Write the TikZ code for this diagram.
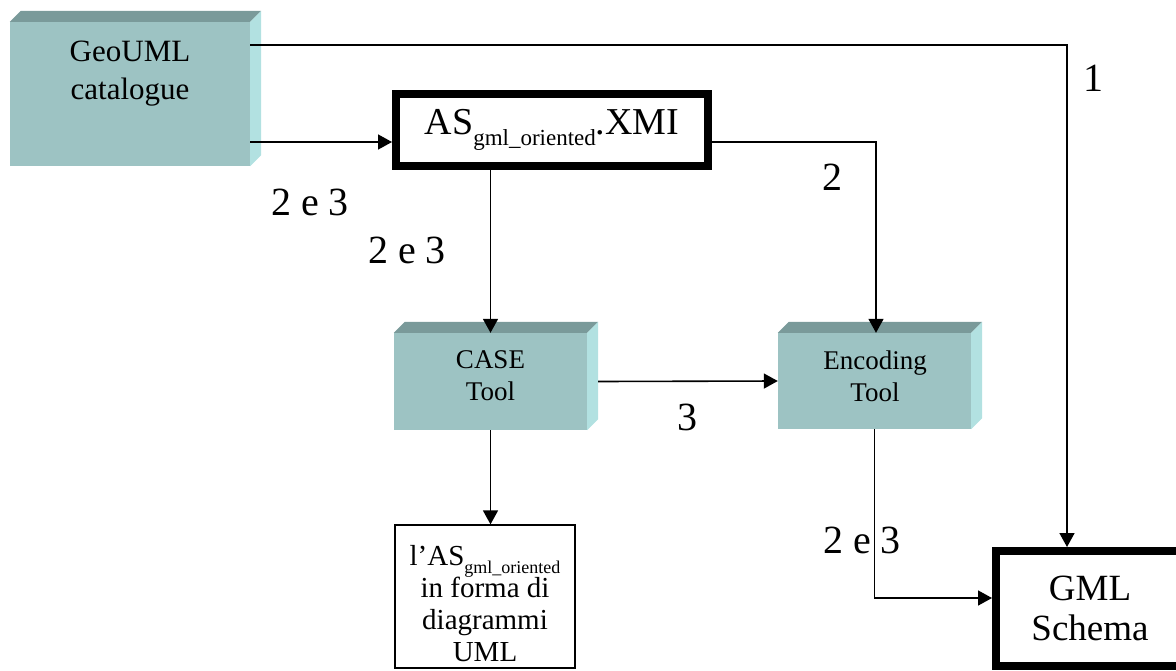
\documentclass[tikz,border=0pt]{standalone}
\usepackage{fontspec}
\setmainfont{Liberation Serif}
\usepackage{xcolor}
\usetikzlibrary{arrows.meta,positioning,calc}

\definecolor{slabfront}{RGB}{157,195,195}
\definecolor{slabtop}{RGB}{122,154,154}
\definecolor{slabside}{RGB}{178,225,225}

\newcommand{\geofont}{\fontsize{31}{38}\selectfont}
\newcommand{\asfont}{\fontsize{38}{44}\selectfont}
\newcommand{\subfont}{\fontsize{23}{26}\selectfont}
\newcommand{\slabfont}{\fontsize{27}{32}\selectfont}
\newcommand{\umlfont}{\fontsize{29}{32}\selectfont}
\newcommand{\umlsubfont}{\fontsize{18}{20}\selectfont}
\newcommand{\gmlfont}{\fontsize{37}{40}\selectfont}
\newcommand{\lblfont}{\fontsize{40}{44}\selectfont}

\begin{document}
\begin{tikzpicture}[x=1pt,y=-1pt]
  % Define styles
  \tikzstyle{slab} = [rectangle, fill=slabfront, inner sep=0pt]
  \tikzstyle{plain} = [rectangle, draw, line width=1.3pt, inner sep=0pt]
  \tikzstyle{heavy} = [rectangle, draw, line width=8pt, inner sep=0pt, align=center]
  \tikzstyle{arrow} = [line width=1.6pt, -{Triangle[length=14pt,width=15pt]}]
  \tikzstyle{lbl} = [font=\lblfont]

  \useasboundingbox (0,0) rectangle (1176,670);
  \clip (0,0) rectangle (1176,670);

  % 3D boxes
  \node [slab, minimum width=240pt, minimum height=144pt] (geo) at (130,94) {};
  \node [slab, minimum width=193pt, minimum height=97pt] (case) at (490.5,381.5) {};
  \node [slab, minimum width=193pt, minimum height=96pt] (enc) at (874.5,381) {};

  \foreach \n in {geo,case,enc} {
    \fill [slabtop] (\n.north west) -- ++(11,-11) -- ($(\n.north east)+(11,-11)$) -- (\n.north east) -- cycle;
    \fill [slabside] (\n.north east) -- ++(11,-11) -- ($(\n.south east)+(11,-11)$) -- (\n.south east) -- cycle;
  }
  \node [font=\geofont, align=center] (geotext) at (130,74) {GeoUML\\catalogue};
  \node [font=\slabfont, align=center] (casetext) at (490.5,376) {CASE\\Tool};
  \node [font=\slabfont, align=center] (enctext) at (875,376) {Encoding\\Tool};

  % Framed boxes
  \node [heavy, minimum width=312pt, minimum height=72pt, font=\asfont] (as) at (552,130)
    {AS\raisebox{-.3em}{\subfont gml\_oriented}.XMI};
  \node [plain, minimum width=180pt, minimum height=143pt] (uml) at (485,596.5) {};
  \node [font=\umlfont, align=center] (umltext) at (485,604)
    {l'AS\raisebox{-.25em}{\umlsubfont gml\_oriented}\\in forma di\\diagrammi\\UML};
  \node [heavy, minimum width=188pt, minimum height=115pt, font=\gmlfont] (gml) at (1090,608.5) {GML\\Schema};

  % Flows
  \draw [arrow] ([yshift=49pt]geo.east) -| ([xshift=-23pt]gml.north);
  \draw [arrow] ([yshift=-48pt]geo.east) -- ([yshift=-48pt]geo.east -| as.west);
  \draw [arrow] ([yshift=-12pt]as.east) -| ([xshift=1.5pt]enc.north);
  \draw [arrow] (as.south -| case.north) -- (case.north);
  \draw [arrow] ([xshift=11pt]case.east) -- (enc.west);
  \draw [arrow] (case.south) -- (case.south |- uml.north);
  \draw [arrow] (enc.south) |- ([yshift=10.5pt]gml.west);

  % Path numbers
  \node [lbl] (n1) at (1093,78) {1};
  \node [lbl] (n2) at (832,177) {2};
  \node [lbl] (n23a) at (310,202) {2 e 3};
  \node [lbl] (n23b) at (407,250) {2 e 3};
  \node [lbl] (n3) at (687,417) {3};
  \node [lbl] (n23c) at (862,540) {2 e 3};
\end{tikzpicture}
\end{document}
